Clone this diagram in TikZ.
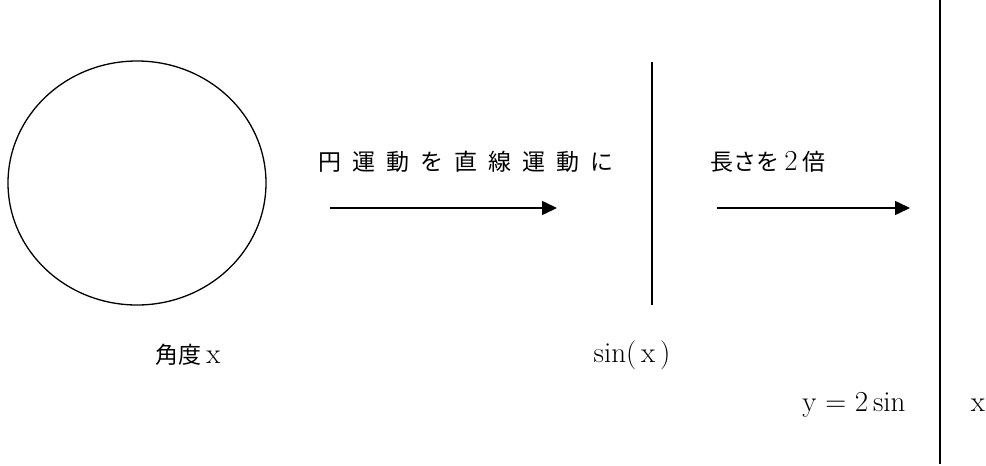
\documentclass[tikz,border=0pt]{standalone}
\usepackage{fontspec}
\newfontfamily\cjk{Noto Sans CJK JP}
\usetikzlibrary{shapes.geometric,arrows.meta}
\newcommand{\gapsp}{\hspace{11pt}}
\newcommand{\cj}[1]{{\fontsize{23}{28}\selectfont\cjk #1}}
\begin{document}
\begin{tikzpicture}[x=1pt,y=-1pt,
  lbl/.style={inner sep=0pt,font=\fontsize{29}{34}\selectfont},
  flow/.style={line width=1.6pt,-{Triangle[length=15pt,width=14pt]}},
  bar/.style={line width=1.5pt}]
\useasboundingbox (0,0) rectangle (986,466);
\node[ellipse,draw,line width=1.3pt,minimum width=258pt,minimum height=244pt,inner sep=0pt] (c) at (137,183) {};
\node[lbl] (t1) at (466,162) {\cj{円\gapsp 運\gapsp 動\gapsp を\gapsp 直\gapsp 線\gapsp 運\gapsp 動\gapsp に}};
\coordinate (a1s) at (330,208);
\coordinate (a1e) at (557,208);
\draw[flow] (a1s) -- (a1e);
\coordinate (m1) at (652,62);
\coordinate (m2) at (652,305);
\draw[bar] (m1) -- (m2);
\node[lbl] (t2) at (768,162) {\cj{長さを}\,2\,\cj{倍}};
\coordinate (a2s) at (717,208);
\coordinate (a2e) at (910,208);
\draw[flow] (a2s) -- (a2e);
\coordinate (r1) at (940,0);
\coordinate (r2) at (940,464);
\draw[bar] (r1) -- (r2);
\node[lbl] (ang) at (188,355) {\cj{角度}\,x};
\node[lbl] (sinx) at (632,355) {sin(\,x\,)};
\node[lbl] (y2) at (854,405) {y\ =\ 2\,sin};
\node[lbl] (x) at (978,405) {x};
\end{tikzpicture}
\end{document}
